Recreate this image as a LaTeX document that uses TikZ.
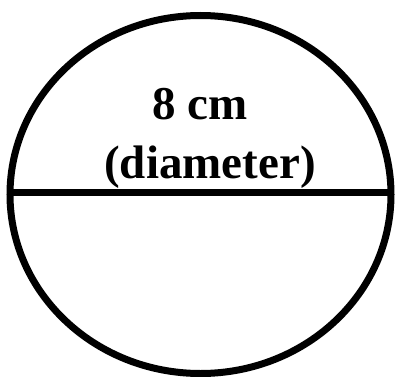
\documentclass[tikz,border=0pt]{standalone}
\usepackage{fontspec}
\setmainfont{Liberation Serif}
\begin{document}
\begin{tikzpicture}[x=1pt,y=-1pt,
  shape line/.style={line width=7pt},
  lbl/.style={anchor=base,inner sep=0pt,font=\fontsize{47}{50}\selectfont\bfseries}]
\useasboundingbox (0,0) rectangle (396,377);
\draw[shape line] (200.5,194.5) ellipse [x radius=190.5, y radius=179];
\coordinate (L) at (10,192.5);
\coordinate (R) at (391,192.5);
\draw[shape line] (L) -- (R);
\node[lbl] (t1) at (200,120) {8 cm};
\node[lbl] (t2) at (210,178) {(diameter)};
\end{tikzpicture}
\end{document}
